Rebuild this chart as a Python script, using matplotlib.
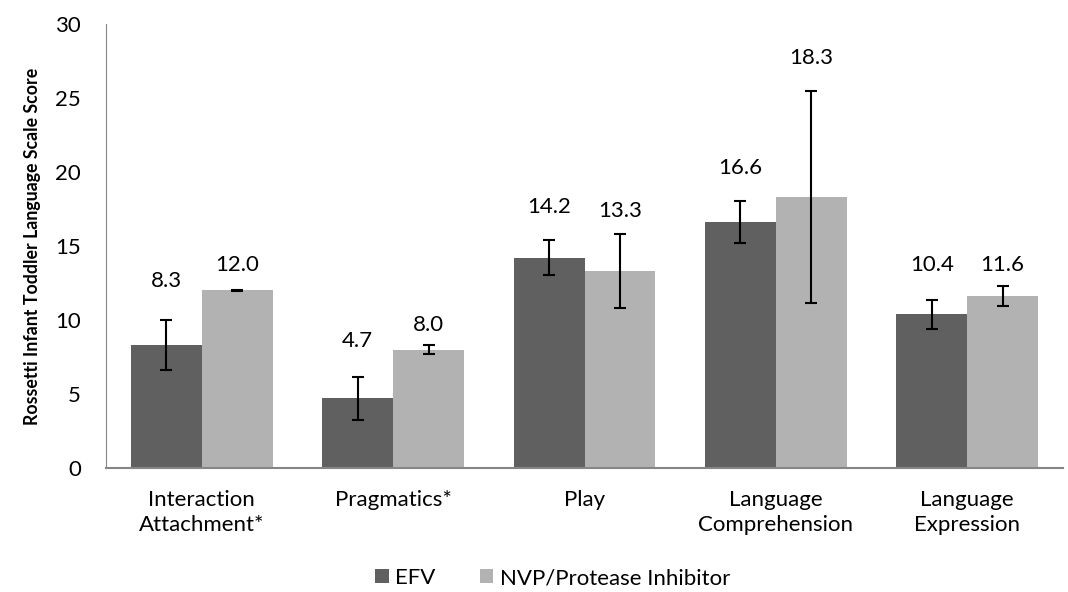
import matplotlib.pyplot as plt
import numpy as np

categories = ["Interaction\nAttachment*", "Pragmatics*", "Play", "Language\nComprehension", "Language\nExpression"]
efv = [8.3, 4.7, 14.2, 16.6, 10.4]
efv_err = [1.67, 1.43, 1.19, 1.43, 0.98]
nvp = [12.0, 8.0, 13.3, 18.3, 11.6]
nvp_err = [0.05, 0.29, 2.52, 7.15, 0.68]
# label heights as placed in the original chart
efv_label_y = [12.6, 8.55, 17.6, 20.3, 13.7]
nvp_label_y = [13.7, 9.65, 17.35, 27.7, 13.7]

plt.rcParams['font.family'] = ['Lato', 'DejaVu Sans']

fig = plt.figure(figsize=(10.68, 5.92), dpi=100)
ax = fig.add_axes([0.0993, 0.2095, 0.896, 0.75])

x = np.arange(len(categories))
w = 0.37
err_kw = dict(ecolor="black", elinewidth=1.5, capsize=4, capthick=1.5)
ax.bar(x - w/2, efv, w, yerr=efv_err, color="#606060", label="EFV", error_kw=err_kw)
ax.bar(x + w/2, nvp, w, yerr=nvp_err, color="#b2b2b2", label="NVP/Protease Inhibitor", error_kw=err_kw)

for i in range(len(categories)):
    ax.text(x[i] - w/2, efv_label_y[i], f"{efv[i]:.1f}", ha="center", va="center", fontsize=16)
    ax.text(x[i] + w/2, nvp_label_y[i], f"{nvp[i]:.1f}", ha="center", va="center", fontsize=16)

ax.set_xlim(-0.5, 4.5)
ax.set_ylim(0, 30)
ax.set_yticks(range(0, 31, 5))
ax.set_xticks(x)
ax.set_xticklabels(categories, fontsize=16, linespacing=1.3)
ax.tick_params(axis="both", length=0, labelsize=16)
ax.tick_params(axis="x", pad=16)
ax.tick_params(axis="y", pad=18)
for s in ["top", "right"]:
    ax.spines[s].set_visible(False)
ax.spines["left"].set_color("#868686")
ax.spines["bottom"].set_color("#868686")
ax.spines["bottom"].set_linewidth(1.5)
ax.set_ylabel("Rossetti Infant Toddler Language Scale Score", fontsize=12.8, fontweight="bold", labelpad=10)

ax.legend(loc="center", bbox_to_anchor=(0.467, -0.248), ncol=2, frameon=False, fontsize=16,
          handlelength=0.6, handleheight=0.6, handletextpad=0.3, columnspacing=2.0)

fig.savefig("out.png", dpi=100)
